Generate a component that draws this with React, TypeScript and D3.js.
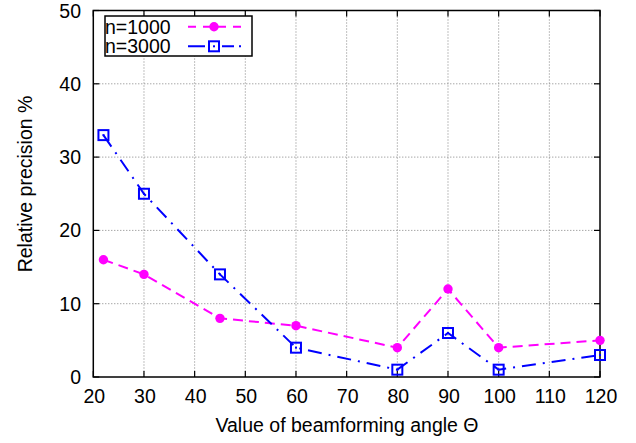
import React from "react";
import * as d3 from "d3";

const angles = [22, 30, 45, 60, 80, 90, 100, 120];
const n1000 = [16, 14, 8, 7, 4, 12, 4, 5];
const n3000 = [33, 25, 14, 4, 1, 6, 1, 3];
const xTicks = [20, 30, 40, 50, 60, 70, 80, 90, 100, 110, 120];
const yTicks = [0, 10, 20, 30, 40, 50];
const seriesNames = ["n=1000", "n=3000"];

const W = 636, H = 443;
const M = { left: 93.3, right: 600, top: 10.5, bottom: 377 };
const FONT = "'Liberation Sans', Arial, Helvetica, sans-serif";
const FS = 19.5;

export default function App() {
  const x = d3.scaleLinear().domain([20, 120]).range([M.left, M.right]);
  const y = d3.scaleLinear().domain([0, 50]).range([M.bottom, M.top]);
  const line = d3.line<[number, number]>().x(d => x(d[0])).y(d => y(d[1]));
  const d1 = line(angles.map((a, i) => [a, n1000[i]]));
  const d3p = line(angles.map((a, i) => [a, n3000[i]]));
  const pink = "#ff00ff";
  const blue = "#0000ff";
  const tl = 6;
  const sq = 10;

  const Square = ({ cx, cy }: { cx: number; cy: number }) => (
    <g>
      <rect x={cx - sq / 2} y={cy - sq / 2} width={sq} height={sq} fill="none" stroke={blue} strokeWidth={2} />
      <rect x={cx - 1} y={cy - 1} width={2} height={2} fill={blue} />
    </g>
  );

  return (
    <div style={{ position: "absolute", left: 0, top: 0 }}>
      <svg width={W} height={H} style={{ display: "block", background: "#fff" }}>
        {/* grid */}
        <g stroke="#808080" strokeWidth={1} strokeDasharray="1,2">
          {xTicks.slice(1, -1).map(t => (
            <line key={"gx" + t} x1={x(t)} x2={x(t)} y1={M.top} y2={M.bottom} />
          ))}
          {yTicks.slice(1, -1).map(t => (
            <line key={"gy" + t} x1={M.left} x2={M.right} y1={y(t)} y2={y(t)} />
          ))}
        </g>
        {/* ticks */}
        <g stroke="#000" strokeWidth={1.2}>
          {xTicks.map(t => (
            <g key={"tx" + t}>
              <line x1={x(t)} x2={x(t)} y1={M.bottom} y2={M.bottom - tl} />
              <line x1={x(t)} x2={x(t)} y1={M.top} y2={M.top + tl} />
            </g>
          ))}
          {yTicks.map(t => (
            <g key={"ty" + t}>
              <line x1={M.left} x2={M.left + tl} y1={y(t)} y2={y(t)} />
              <line x1={M.right} x2={M.right - tl} y1={y(t)} y2={y(t)} />
            </g>
          ))}
        </g>
        {/* frame */}
        <rect x={M.left} y={M.top} width={M.right - M.left} height={M.bottom - M.top} fill="none" stroke="#000" strokeWidth={1.5} />
        {/* tick labels */}
        <g fontFamily={FONT} fontSize={FS} fill="#000">
          {xTicks.map(t => (
            <text key={"lx" + t} x={x(t) + 1} y={403} textAnchor="middle">{t}</text>
          ))}
          {yTicks.map(t => (
            <text key={"ly" + t} x={81} y={y(t) + 7} textAnchor="end">{t}</text>
          ))}
          <text x={347} y={432} textAnchor="middle">Value of beamforming angle Θ</text>
          <text transform={`translate(32,184) rotate(-90)`} textAnchor="middle">Relative precision %</text>
        </g>
        {/* series */}
        <path d={d1 || ""} fill="none" stroke={pink} strokeWidth={2} strokeDasharray="10,6" />
        <path d={d3p || ""} fill="none" stroke={blue} strokeWidth={2} strokeDasharray="14,7,2,7" />
        {angles.map((a, i) => (
          <circle key={"c" + a} cx={x(a)} cy={y(n1000[i])} r={4.7} fill={pink} />
        ))}
        {angles.map((a, i) => (
          <Square key={"s" + a} cx={x(a)} cy={y(n3000[i])} />
        ))}
        {/* legend */}
        <rect x={105} y={16} width={147} height={40} fill="#fff" stroke="#000" strokeWidth={1.5} />
        <g fontFamily={FONT} fontSize={FS} fill="#000">
          <text x={105} y={33.5}>{seriesNames[0]}</text>
          <text x={105} y={53}>{seriesNames[1]}</text>
        </g>
        <line x1={188} x2={242} y1={26.7} y2={26.7} stroke={pink} strokeWidth={2} strokeDasharray="8,7" />
        <circle cx={214} cy={26.7} r={4.7} fill={pink} />
        <line x1={188} x2={242} y1={46.3} y2={46.3} stroke={blue} strokeWidth={2} strokeDasharray="17,17,12,5,2,10" />
        <Square cx={214} cy={46.3} />
      </svg>
    </div>
  );
}
